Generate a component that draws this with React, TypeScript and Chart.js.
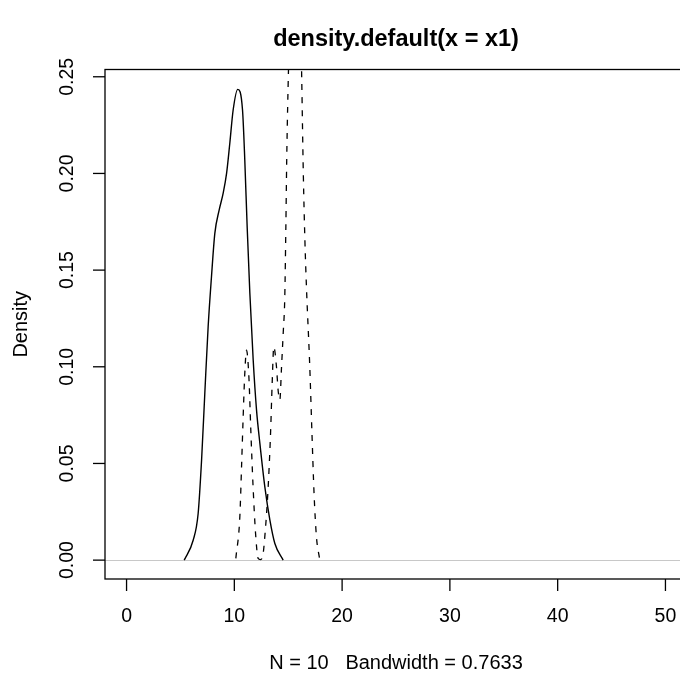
import React, { useEffect, useRef } from "react";
import { Chart, registerables } from "chart.js";

Chart.register(...registerables);

// Solid curve: density of x1
const solidX = [5.35, 6.18, 6.64, 6.96, 7.26, 7.57, 7.88, 8.19, 8.59, 8.96, 9.28, 9.58, 9.89, 10.32, 10.76, 10.97, 11.19, 11.44, 11.75, 12.06, 12.37, 12.83, 13.3, 13.76, 14.53];
const solidY = [0, 0.0103, 0.024, 0.0517, 0.0862, 0.1207, 0.1466, 0.169, 0.181, 0.1897, 0.2, 0.2156, 0.2328, 0.2435, 0.2328, 0.207, 0.1724, 0.138, 0.1035, 0.0776, 0.0604, 0.0379, 0.0207, 0.0086, 0];

// Dashed curve: second density (its tallest mode runs off the top)
const dashX = [10.14, 10.51, 10.67, 10.82, 10.97, 11.13, 11.35, 11.54, 11.74, 11.97, 12.21, 12.42, 12.62, 12.9, 13.14, 13.36, 13.51, 13.66, 13.91, 14.06, 14.22, 14.38, 14.53, 14.68, 14.78, 14.86, 14.95, 15.05, 15.3, 15.65, 16.0, 16.12, 16.25, 16.4, 16.55, 16.7, 17.0, 17.2, 17.4, 17.62, 17.9];
const dashY = [0.0009, 0.0224, 0.0483, 0.0742, 0.0966, 0.1086, 0.0948, 0.0655, 0.0379, 0.0138, 0.0009, 0.0003, 0.0017, 0.0172, 0.0379, 0.0655, 0.0914, 0.1103, 0.1, 0.088, 0.0828, 0.1, 0.117, 0.136, 0.172, 0.207, 0.235, 0.26, 0.33, 0.4, 0.33, 0.29, 0.25, 0.2, 0.165, 0.14, 0.1, 0.066, 0.034, 0.012, 0.001];

const xTicks = [0, 10, 20, 30, 40, 50];
const xTickLabels = ["0", "10", "20", "30", "40", "50"];
const yTicks = [0, 0.05, 0.1, 0.15, 0.2, 0.25];
const yTickLabels = ["0.00", "0.05", "0.10", "0.15", "0.20", "0.25"];
const xLimits = [-2, 52];
const yLimits = [-0.00976, 0.25376];

const titleText = "density.default(x = x1)";
const xLabelText = "N = 10   Bandwidth = 0.7633";
const yLabelText = "Density";

const FONT = '"Liberation Sans", Arial, Helvetica, sans-serif';

const rPlotPlugin = {
  id: "rplot",
  beforeDatasetsDraw(chart: any) {
    const { ctx, chartArea: a, scales } = chart;
    const y0 = Math.round(scales.y.getPixelForValue(0)) + 0.5;
    ctx.save();
    ctx.strokeStyle = "#c8c8c8";
    ctx.lineWidth = 1;
    ctx.beginPath();
    ctx.moveTo(a.left, y0);
    ctx.lineTo(a.right, y0);
    ctx.stroke();
    ctx.restore();
  },
  afterDatasetsDraw(chart: any) {
    const { ctx, chartArea: a, scales } = chart;
    const xs = scales.x;
    const ys = scales.y;
    const tick = 12;
    ctx.save();
    ctx.strokeStyle = "#000";
    ctx.fillStyle = "#000";
    ctx.lineWidth = 1.3;
    // box
    ctx.strokeRect(a.left, a.top, a.right - a.left, a.bottom - a.top);
    // x axis ticks + labels
    ctx.font = `19.5px ${FONT}`;
    ctx.textAlign = "center";
    ctx.textBaseline = "middle";
    xTicks.forEach((v, i) => {
      const px = xs.getPixelForValue(v);
      ctx.beginPath();
      ctx.moveTo(px, a.bottom);
      ctx.lineTo(px, a.bottom + tick);
      ctx.stroke();
      ctx.fillText(xTickLabels[i], px, 617);
    });
    // y axis ticks + rotated labels
    yTicks.forEach((v, i) => {
      const py = ys.getPixelForValue(v);
      ctx.beginPath();
      ctx.moveTo(a.left, py);
      ctx.lineTo(a.left - tick, py);
      ctx.stroke();
      ctx.save();
      ctx.translate(68, py);
      ctx.rotate(-Math.PI / 2);
      ctx.fillText(yTickLabels[i], 0, 0);
      ctx.restore();
    });
    // axis titles
    const cx = (a.left + a.right) / 2;
    const cy = (a.top + a.bottom) / 2;
    ctx.font = `20px ${FONT}`;
    ctx.fillText(xLabelText, cx, 663);
    ctx.save();
    ctx.translate(21, cy);
    ctx.rotate(-Math.PI / 2);
    ctx.fillText(yLabelText, 0, 0);
    ctx.restore();
    // main title
    ctx.font = `bold 23.5px ${FONT}`;
    ctx.fillText(titleText, cx, 40);
    ctx.restore();
  },
};

export default function App() {
  const ref = useRef<HTMLCanvasElement | null>(null);
  useEffect(() => {
    if (!ref.current) return;
    const chart = new Chart(ref.current, {
      type: "line",
      data: {
        datasets: [
          {
            label: "x1",
            data: solidX.map((x, i) => ({ x, y: solidY[i] })),
            borderColor: "#000",
            borderWidth: 1.4,
            pointRadius: 0,
            fill: false,
            cubicInterpolationMode: "monotone",
          },
          {
            label: "x2",
            data: dashX.map((x, i) => ({ x, y: dashY[i] })),
            borderColor: "#000",
            borderWidth: 1.3,
            borderDash: [6, 7],
            pointRadius: 0,
            fill: false,
            cubicInterpolationMode: "monotone",
          },
        ],
      },
      options: {
        responsive: false,
        animation: false,
        devicePixelRatio: 1,
        layout: { padding: { left: 105, top: 69.5, right: 13, bottom: 98 } },
        plugins: { legend: { display: false }, title: { display: false }, tooltip: { enabled: false } },
        events: [],
        scales: {
          x: { type: "linear", min: xLimits[0], max: xLimits[1], display: false },
          y: { type: "linear", min: yLimits[0], max: yLimits[1], display: false },
        },
      },
      plugins: [rPlotPlugin],
    });
    return () => chart.destroy();
  }, []);
  return (
    <div style={{ position: "fixed", left: 0, top: 0, width: 680, height: 677, overflow: "hidden", background: "#fff" }}>
      <canvas ref={ref} width={700} height={677} style={{ display: "block" }} />
    </div>
  );
}
